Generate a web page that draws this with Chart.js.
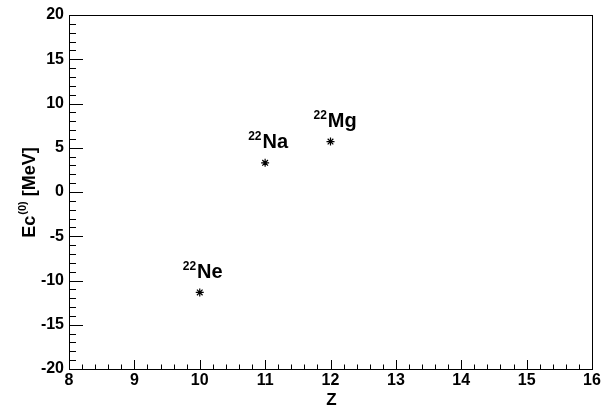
<!DOCTYPE html>
<html>
<head>
<meta charset="utf-8">
<script src="https://cdn.jsdelivr.net/npm/chart.js@4/dist/chart.umd.min.js"></script>
<style>
  body { margin: 0; background: #fff; }
  #c { display: block; }
</style>
</head>
<body>
<canvas id="c" width="608" height="407"></canvas>
<script>
// data
var zValues = [10, 11, 12];
var ecValues = [-11.35, 3.3, 5.7];
var nuclei = ['Ne', 'Na', 'Mg'];
var massNumber = '22';
var xTitle = 'Z';
var yTitle = ['Ec', '(0)', ' [MeV]'];

var FONT = '"Liberation Sans", Arial, sans-serif';

var points = [];
for (var i = 0; i < zValues.length; i++) {
    points.push({x: zValues[i], y: ecValues[i]});
}

// ROOT-like frame: box, ticks inside, axis titles and isotope labels
var rootStyle = {
    id: 'rootStyle',
    afterDraw: function(chart) {
        var ctx = chart.ctx;
        var a = chart.chartArea;
        var xs = chart.scales.x;
        var ys = chart.scales.y;
        ctx.save();
        ctx.strokeStyle = '#000';
        ctx.lineWidth = 1;
        ctx.strokeRect(Math.round(a.left) + 0.5, Math.round(a.top) + 0.5,
                       Math.round(a.right - a.left), Math.round(a.bottom - a.top));
        ctx.beginPath();
        // y ticks, every 1 with majors every 5
        for (var v = ys.min; v <= ys.max + 1e-9; v += 1) {
            var py = Math.round(ys.getPixelForValue(v)) + 0.5;
            var len = (Math.round(v) % 5 === 0) ? 14 : 7;
            ctx.moveTo(a.left, py);
            ctx.lineTo(a.left + len, py);
        }
        // x ticks, every 0.2 with majors every 1
        for (var k = 0; k <= (xs.max - xs.min) * 5; k++) {
            var vx = xs.min + k * 0.2;
            var px = Math.round(xs.getPixelForValue(vx)) + 0.5;
            var l2 = (k % 5 === 0) ? 9 : 4.5;
            ctx.moveTo(px, a.bottom);
            ctx.lineTo(px, a.bottom - l2);
        }
        ctx.stroke();

        ctx.fillStyle = '#000';
        // x title
        ctx.font = 'bold 17px ' + FONT;
        ctx.textAlign = 'center';
        ctx.textBaseline = 'alphabetic';
        ctx.fillText(xTitle, (a.left + a.right) / 2 + 1, 405);

        // y title with superscript, rotated
        ctx.save();
        ctx.translate(35, (a.top + a.bottom) / 2 + 1);
        ctx.rotate(-Math.PI / 2);
        var big = 'bold 18px ' + FONT;
        var small = 'bold 11px ' + FONT;
        ctx.font = big; var w0 = ctx.measureText(yTitle[0]).width;
        var w2 = ctx.measureText(yTitle[2]).width;
        ctx.font = small; var w1 = ctx.measureText(yTitle[1]).width;
        var x0 = -(w0 + w1 + w2) / 2;
        ctx.textAlign = 'left';
        ctx.font = big; ctx.fillText(yTitle[0], x0, 0);
        ctx.font = small; ctx.fillText(yTitle[1], x0 + w0 + 1, -9);
        ctx.font = big; ctx.fillText(yTitle[2], x0 + w0 + w1 + 1, 0);
        ctx.restore();

        // isotope labels above each point
        var meta = chart.getDatasetMeta(0);
        for (var j = 0; j < meta.data.length; j++) {
            var el = meta.data[j];
            var lx = el.x - 17;
            var ly = el.y - 14.5;
            ctx.textAlign = 'left';
            ctx.font = 'bold 12px ' + FONT;
            var ws = ctx.measureText(massNumber).width;
            ctx.fillText(massNumber, lx, ly - 8);
            ctx.font = 'bold 20px ' + FONT;
            ctx.fillText(nuclei[j], lx + ws + 1, ly);
        }
        ctx.restore();
    }
};

var chart = new Chart(document.getElementById('c'), {
    type: 'scatter',
    data: {
        datasets: [{
            data: points,
            pointStyle: 'star',
            pointRadius: 4,
            pointHoverRadius: 4,
            borderColor: '#000',
            backgroundColor: '#000',
            borderWidth: 1.2
        }]
    },
    options: {
        responsive: false,
        animation: false,
        devicePixelRatio: 1,
        layout: { padding: { top: 15, right: 16, left: 0, bottom: 0 } },
        plugins: { legend: { display: false }, tooltip: { enabled: false } },
        scales: {
            x: {
                type: 'linear',
                min: 8, max: 16,
                afterFit: function(s) { s.height = 38; },
                grid: { display: false, drawTicks: false },
                border: { display: false },
                ticks: {
                    stepSize: 1, padding: 2, color: '#000', maxRotation: 0,
                    font: { family: FONT, size: 16, weight: 'bold' }
                }
            },
            y: {
                min: -20, max: 20,
                afterFit: function(s) { s.width = 69; },
                grid: { display: false, drawTicks: false },
                border: { display: false },
                ticks: {
                    stepSize: 5, padding: 5, color: '#000',
                    font: { family: FONT, size: 16, weight: 'bold' }
                }
            }
        }
    },
    plugins: [rootStyle]
});
</script>
</body>
</html>
